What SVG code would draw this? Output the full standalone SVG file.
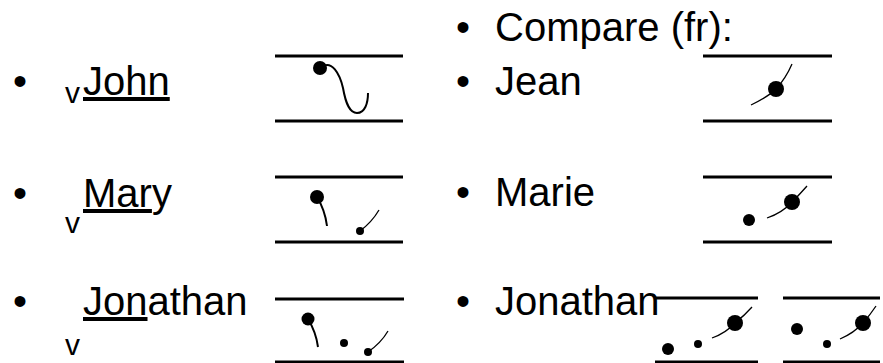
<svg xmlns="http://www.w3.org/2000/svg" width="883" height="363" viewBox="0 0 883 363">
<style>
text{font-family:"Liberation Sans",Arial,sans-serif;fill:#000}
.t{font-size:40px}
.v{font-size:30px}
.u{text-decoration:underline}
.staff{stroke:#000;stroke-width:3;fill:none}
.tail{stroke:#000;stroke-width:2;fill:none}
.thin{stroke:#000;stroke-width:1.3;fill:none}
.dot{fill:#000}
</style>
<rect width="883" height="363" fill="#fff"/>
<g id="compare"><text class="t" x="456" y="41">•</text><text class="t" x="495" y="41">Compare (fr):</text></g>
<g id="john">
<text class="t" x="13" y="95">•</text>
<text class="v" x="65" y="103">v</text>
<text class="t" x="83" y="95"><tspan class="u">John</tspan></text>
</g>
<g id="john-pitch">
<line class="staff" x1="275" y1="56" x2="403" y2="56"/>
<line class="staff" x1="275" y1="121" x2="403" y2="121"/>
<path class="tail" d="M320,68 C332,58 340,75 343,88 C346,105 350,113 357,113 C365,113 368,103 368,93"/>
<circle class="dot" cx="320" cy="68" r="7"/>
</g>
<g id="jean">
<text class="t" x="456" y="95">•</text>
<text class="t" x="495" y="95">Jean</text>
</g>
<g id="jean-pitch">
<line class="staff" x1="703" y1="56" x2="832" y2="56"/>
<line class="staff" x1="703" y1="121" x2="832" y2="121"/>
<path class="thin" d="M751,105 Q768,97 776,89 Q786,78 792,64"/>
<circle class="dot" cx="776" cy="89" r="8"/>
</g>
<g id="mary">
<text class="t" x="13" y="207">•</text>
<text class="v" x="65" y="233">v</text>
<text class="t" x="83" y="207"><tspan class="u">Mar</tspan>y</text>
</g>
<g id="mary-pitch">
<line class="staff" x1="275" y1="177" x2="403" y2="177"/>
<line class="staff" x1="275" y1="242" x2="403" y2="242"/>
<path class="tail" d="M317,197 Q325,210 327,226"/>
<circle class="dot" cx="317" cy="197" r="7"/>
<path class="thin" d="M360,231 Q372,222 379,210"/>
<circle class="dot" cx="360" cy="231" r="4"/>
</g>
<g id="marie">
<text class="t" x="456" y="206">•</text>
<text class="t" x="495" y="206">Marie</text>
</g>
<g id="marie-pitch">
<line class="staff" x1="703" y1="177" x2="832" y2="177"/>
<line class="staff" x1="703" y1="242" x2="832" y2="242"/>
<circle class="dot" cx="749" cy="220" r="6"/>
<path class="thin" d="M767,218 Q782,213 792,202 Q800,194 807,186"/>
<circle class="dot" cx="792" cy="202" r="8"/>
</g>
<g id="jonathan">
<text class="t" x="13" y="315">•</text>
<text class="v" x="65" y="355">v</text>
<text class="t" x="83" y="315"><tspan class="u">Jon</tspan>athan</text>
</g>
<g id="jonathan-pitch">
<line class="staff" x1="275" y1="299" x2="404" y2="299"/>
<line class="staff" x1="275" y1="362" x2="404" y2="362"/>
<path class="tail" d="M308,319 Q316,332 318,347"/>
<circle class="dot" cx="308" cy="319" r="6.5"/>
<circle class="dot" cx="344" cy="343" r="4"/>
<path class="thin" d="M368,352 Q381,343 388,331"/>
<circle class="dot" cx="368" cy="352" r="4"/>
</g>
<g id="jonathan-fr">
<text class="t" x="456" y="315">•</text>
<text class="t" x="495" y="315">Jonathan</text>
</g>
<g id="jonathan-fr-pitch1">
<line class="staff" x1="655" y1="298" x2="758" y2="298"/>
<line class="staff" x1="655" y1="362" x2="758" y2="362"/>
<circle class="dot" cx="668" cy="349" r="6"/>
<circle class="dot" cx="698" cy="344" r="4"/>
<path class="thin" d="M712,338 Q726,333 735,323 Q745,315 752,307"/>
<circle class="dot" cx="735" cy="323" r="8"/>
</g>
<g id="jonathan-fr-pitch2">
<line class="staff" x1="783" y1="298" x2="880" y2="298"/>
<line class="staff" x1="783" y1="362" x2="880" y2="362"/>
<circle class="dot" cx="797" cy="329" r="6"/>
<circle class="dot" cx="827" cy="344" r="4"/>
<path class="thin" d="M840,339 Q854,333 863,323 Q870,315 876,306"/>
<circle class="dot" cx="863" cy="323" r="8"/>
</g>
<g id="connectors"/>
</svg>
